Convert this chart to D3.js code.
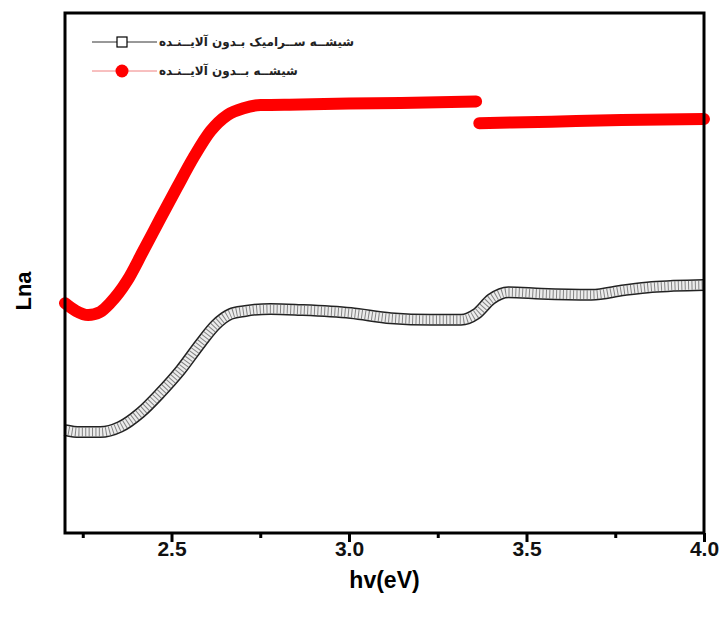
<!DOCTYPE html>
<html>
<head>
<meta charset="utf-8">
<script src="https://cdn.jsdelivr.net/npm/d3@7"></script>
<style>
  body { margin: 0; background: #fff; }
  svg { display: block; }
</style>
</head>
<body>
<div id="chart"></div>
<script>
// photon energy (eV) and Lna (arbitrary units)
const redX = [2.200, 2.231, 2.265, 2.299, 2.327, 2.375, 2.420, 2.468, 2.516, 2.562, 2.610, 2.658, 2.703, 2.751, 2.864, 3.000, 3.146, 3.358, null, 3.367, 3.570, 3.768, 4.000];
const redY = [4.42, 4.27, 4.19, 4.25, 4.42, 4.85, 5.42, 6.04, 6.65, 7.22, 7.73, 8.04, 8.17, 8.23, 8.24, 8.26, 8.27, 8.30, null, 7.88, 7.91, 7.94, 7.96];
const blackX = [2.200, 2.242, 2.299, 2.355, 2.412, 2.468, 2.525, 2.582, 2.624, 2.666, 2.708, 2.779, 2.864, 3.005, 3.118, 3.231, 3.316, 3.358, 3.401, 3.449, 3.542, 3.683, 3.776, 3.853, 4.000];
const blackY = [1.98, 1.94, 1.94, 2.04, 2.31, 2.69, 3.13, 3.65, 4.00, 4.21, 4.27, 4.31, 4.29, 4.23, 4.13, 4.10, 4.10, 4.21, 4.50, 4.63, 4.60, 4.58, 4.67, 4.73, 4.77];
const majorTicks = [2.5, 3.0, 3.5, 4.0];
const minorTicks = [2.25, 2.75, 3.25, 3.75];
const legendLabels = ["شیشــه ســرامیک بـدون آلایــنـده", "شیشــه بــدون آلایــنـده"];

const width = 724, height = 619;
const margin = { top: 13, right: 20, bottom: 86, left: 65 };
const innerW = width - margin.left - margin.right;
const innerH = height - margin.top - margin.bottom;

const svg = d3.select("#chart").append("svg").attr("width", width).attr("height", height);
const chart = svg.append("g").attr("transform", `translate(${margin.left},${margin.top})`);

const x = d3.scaleLinear().domain([2.2, 4.0]).range([0, innerW]);
const y = d3.scaleLinear().domain([0, 10]).range([innerH, 0]);

const red = redX.map((v, i) => ({ x: v, y: redY[i] }));
const black = blackX.map((v, i) => ({ x: v, y: blackY[i] }));

const line = d3.line()
    .defined(d => d.x !== null)
    .x(d => x(d.x))
    .y(d => y(d.y))
    .curve(d3.curveMonotoneX);

// open-square series: dark edge, light fill, hatching
chart.append("path").datum(black).attr("d", line)
    .attr("fill", "none").attr("stroke", "#222").attr("stroke-width", 12);
chart.append("path").datum(black).attr("d", line)
    .attr("fill", "none").attr("stroke", "#ececec").attr("stroke-width", 9);
chart.append("path").datum(black).attr("d", line)
    .attr("fill", "none").attr("stroke", "#555").attr("stroke-width", 9)
    .attr("stroke-dasharray", "1,2.4").attr("opacity", 0.7);

// filled-circle series
chart.append("path").datum(red).attr("d", line)
    .attr("fill", "none").attr("stroke", "#ff0000").attr("stroke-width", 12)
    .attr("stroke-linecap", "round");

// frame
chart.append("rect").attr("width", innerW).attr("height", innerH)
    .attr("fill", "none").attr("stroke", "#000").attr("stroke-width", 3);

const xAxis = chart.append("g").attr("transform", `translate(0,${innerH})`)
    .call(d3.axisBottom(x).tickValues(majorTicks).tickFormat(d3.format(".1f")).tickSize(9).tickSizeOuter(0));
chart.append("g").attr("transform", `translate(0,${innerH})`)
    .call(d3.axisBottom(x).tickValues(minorTicks).tickFormat("").tickSize(5).tickSizeOuter(0))
    .call(g => g.select(".domain").remove());
chart.selectAll(".tick line").attr("stroke", "#000").attr("stroke-width", 3);
xAxis.select(".domain").remove();
xAxis.selectAll("text")
    .attr("dy", null).attr("y", 23)
    .style("font-family", "'Liberation Sans Narrow', 'Liberation Sans', Arial, sans-serif")
    .style("font-weight", "bold").style("font-size", "21px").attr("fill", "#111");

svg.append("text")
    .attr("x", margin.left + x(3.1)).attr("y", 588)
    .attr("text-anchor", "middle")
    .style("font-family", "'Liberation Sans Narrow', 'Liberation Sans', Arial, sans-serif")
    .style("font-weight", "bold").style("font-size", "23px")
    .text("hv(eV)");

svg.append("text")
    .attr("transform", "translate(31,291) rotate(-90)")
    .attr("text-anchor", "middle")
    .style("font-family", "'Liberation Sans', Arial, sans-serif")
    .style("font-weight", "bold").style("font-size", "22px")
    .text("Lna");

// legend
const legend = svg.append("g");
const rows = [{ y: 42, color: "#333" }, { y: 71, color: "#f08080" }];
rows.forEach((r, i) => {
    legend.append("line").attr("x1", 92).attr("x2", 157).attr("y1", r.y).attr("y2", r.y)
        .attr("stroke", r.color).attr("stroke-width", 1);
    if (i === 0) {
        legend.append("rect").attr("x", 117).attr("y", r.y - 5).attr("width", 10).attr("height", 10)
            .attr("fill", "#fff").attr("stroke", "#000").attr("stroke-width", 1.2);
    } else {
        legend.append("circle").attr("cx", 122).attr("cy", r.y).attr("r", 6.5).attr("fill", "#ff0000");
    }
    legend.append("text").attr("x", 159).attr("y", r.y + 4)
        .style("font-family", "'DejaVu Sans', sans-serif")
        .style("font-size", "12px").style("font-weight", "bold").attr("fill", "#222")
        .text(legendLabels[i]);
});
</script>
</body>
</html>
